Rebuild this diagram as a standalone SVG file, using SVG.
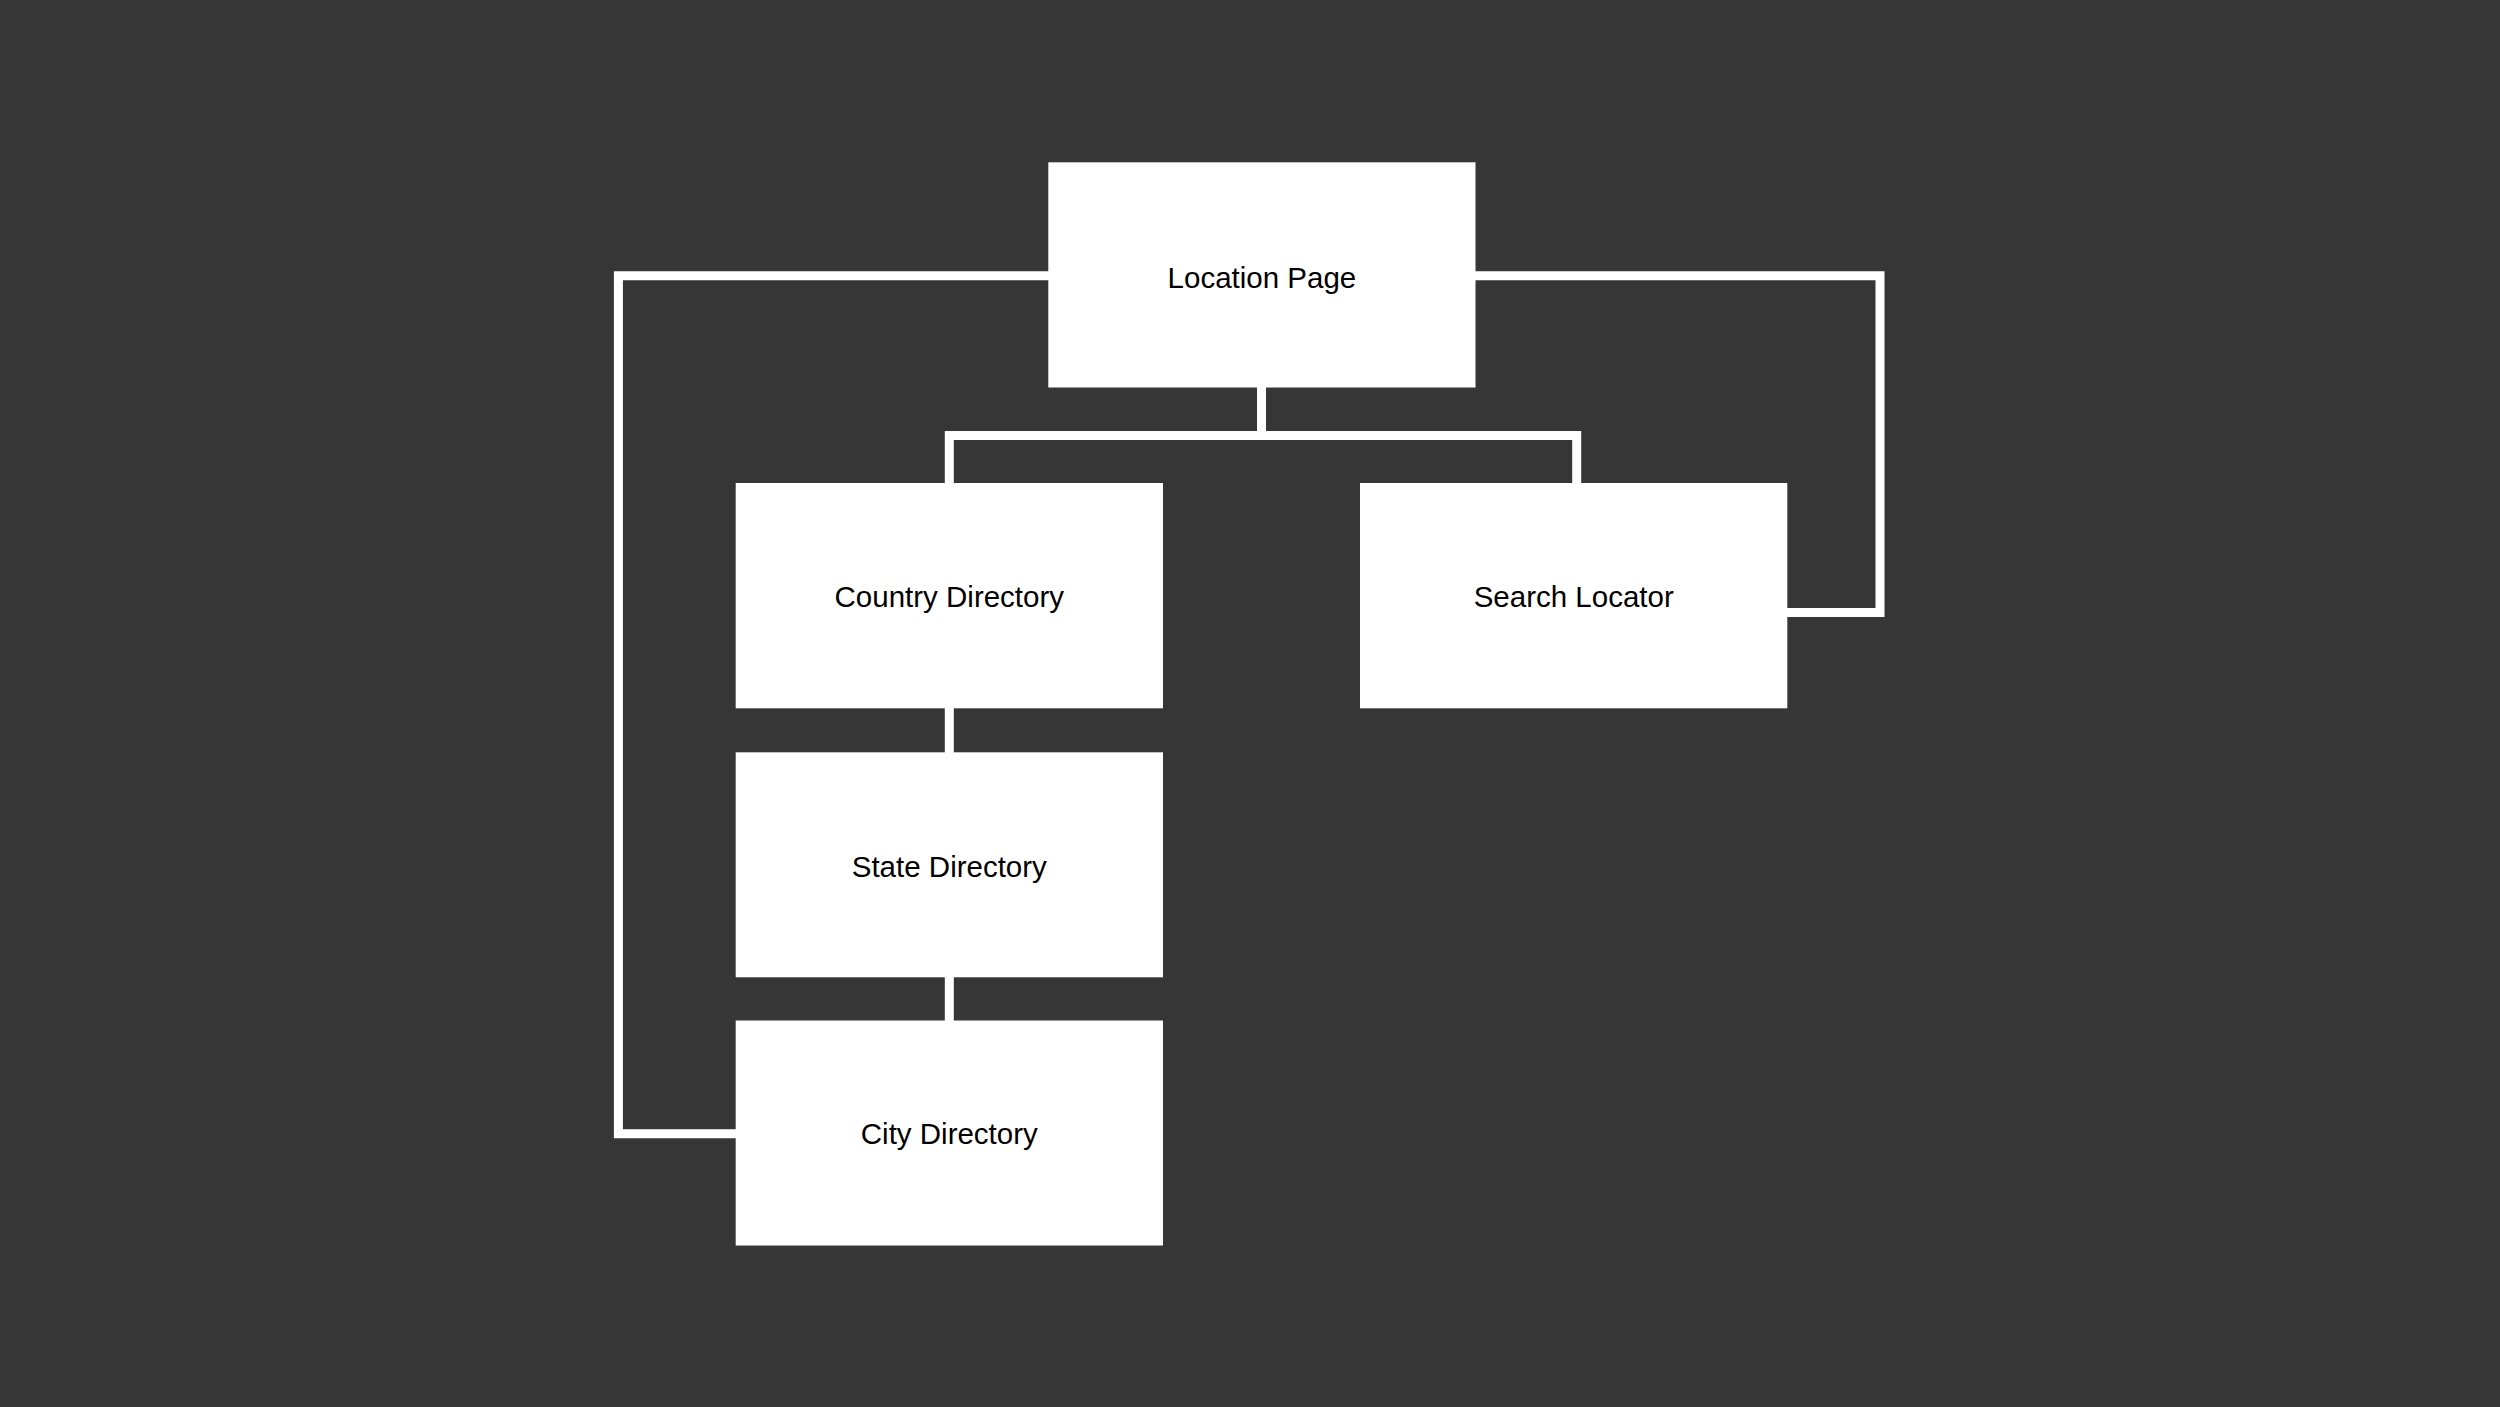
<svg xmlns="http://www.w3.org/2000/svg" width="2500" height="1407" viewBox="0 0 2500 1407">
<style>
.node rect{fill:#ffffff;}
.node text{font-family:"Liberation Sans",Arial,sans-serif;font-size:29.5px;fill:#000000;text-anchor:middle;}
.conn path{fill:none;stroke:#ffffff;stroke-width:9;stroke-linejoin:miter;stroke-linecap:butt;}
</style>
<rect x="0" y="0" width="2500" height="1407" fill="#363636"/>
<g id="connectors" class="conn">
<path d="M1050,275.7 H618.4 V1133.7 H737"/>
<path d="M1474,275.7 H1880 V612.5 H1786"/>
<path d="M1261.5,386 V435.4"/>
<path d="M949.3,484 V435.4 H1576.7 V484"/>
<path d="M949.3,707 V753"/>
<path d="M949.3,976 V1021.5"/>
</g>
<g id="location-page" class="node">
<rect x="1048.3" y="162.3" width="427.2" height="225.2"/>
<text x="1261.9" y="288.3">Location Page</text>
</g>
<g id="country-directory" class="node">
<rect x="735.7" y="483" width="427.3" height="225.3"/>
<text x="949.3" y="606.5">Country Directory</text>
</g>
<g id="search-locator" class="node">
<rect x="1360" y="483" width="427.3" height="225.3"/>
<text x="1573.7" y="606.7">Search Locator</text>
</g>
<g id="state-directory" class="node">
<rect x="735.7" y="752.3" width="427.3" height="225"/>
<text x="949.3" y="876.7">State Directory</text>
</g>
<g id="city-directory" class="node">
<rect x="735.7" y="1020.5" width="427.3" height="225"/>
<text x="949.3" y="1144.3">City Directory</text>
</g>
</svg>
